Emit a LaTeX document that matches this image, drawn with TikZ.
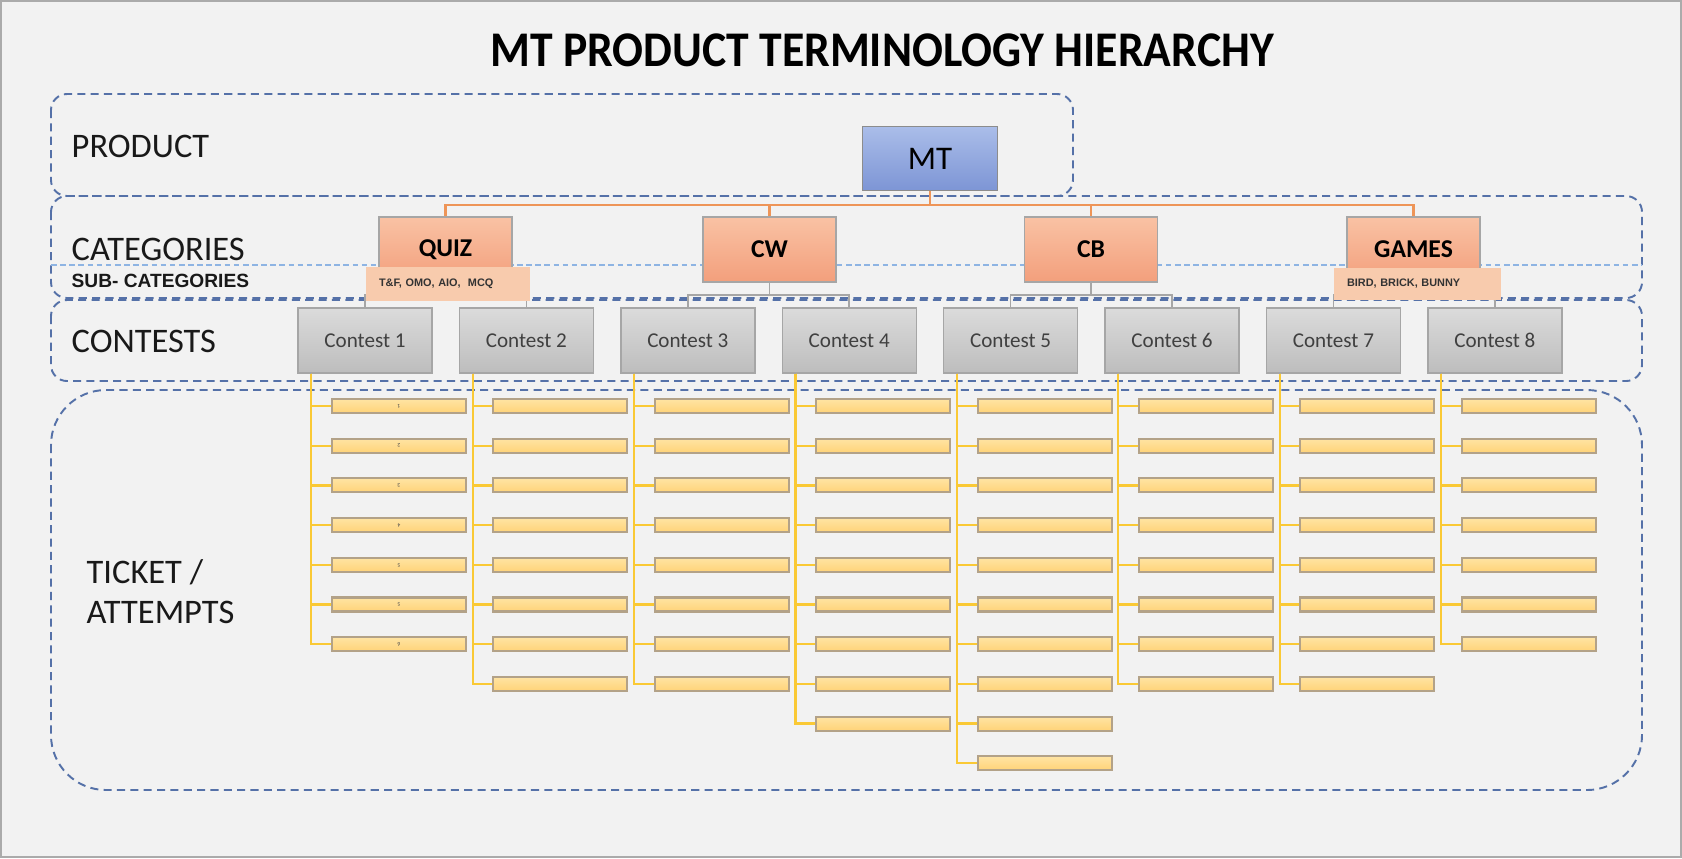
\documentclass[tikz,border=0pt]{standalone}
\usepackage{xcolor}
\usepackage{fontspec}
\setmainfont{Carlito}
\newfontfamily\arialfont{Liberation Sans}
\usepackage{tikz}
\usetikzlibrary{positioning}

\definecolor{pagebg}{HTML}{F2F2F2}
\definecolor{framegray}{HTML}{ABABAB}
\definecolor{bandblue}{HTML}{5571A8}
\definecolor{splitblue}{HTML}{8EB4E3}
\definecolor{mttop}{HTML}{AABDE9}
\definecolor{mtbot}{HTML}{7D95D5}
\definecolor{cattop}{HTML}{F9C2A4}
\definecolor{catbot}{HTML}{F39F7C}
\definecolor{subfill}{HTML}{F8CBAD}
\definecolor{contop}{HTML}{DBDBDB}
\definecolor{conbot}{HTML}{BDBDBD}
\definecolor{orangeline}{HTML}{EE9558}
\definecolor{grayline}{HTML}{A6A6A6}
\definecolor{yellowline}{HTML}{FAC935}
\definecolor{tictop}{HTML}{FFE4A3}
\definecolor{ticbot}{HTML}{FFD378}
\definecolor{ticedge}{HTML}{B3A288}

\begin{document}
\begin{tikzpicture}[x=0.1mm, y=-0.1mm,
	band/.style={draw=bandblue, dash pattern=on 2.3pt off 1.5pt, line width=0.55pt, rounded corners=1.6mm},
	level/.style={anchor=west, inner sep=0, text=black!90, font=\fontsize{9.8}{11.4}\selectfont},
	mtbox/.style={draw=black!45, top color=mttop, bottom color=mtbot, minimum width=13.5mm, minimum height=6.4mm, font=\fontsize{9.4}{11}\selectfont},
	catbox/.style={draw=black!35, top color=cattop, bottom color=catbot, minimum width=13.3mm, minimum height=6.5mm, font=\bfseries\fontsize{7.3}{8}\selectfont},
	subbox/.style={fill=subfill, minimum height=3mm, inner xsep=1.3mm, align=left, text=black!80, font=\arialfont\bfseries\fontsize{3.1}{3.5}\selectfont},
	contest/.style={draw=grayline, top color=contop, bottom color=conbot, minimum width=13.4mm, minimum height=6.5mm, text=black!75, font=\fontsize{6}{7}\selectfont},
	ticket/.style={draw=ticedge, line width=0.6pt, top color=tictop, bottom color=ticbot, minimum width=13.4mm, minimum height=1.4mm, inner sep=0},
	tiny/.style={inner sep=0, rotate=180, text=black!70, font=\fontsize{1.6}{2}\selectfont},
	catline/.style={draw=orangeline, line width=0.7pt},
	conline/.style={draw=grayline, line width=0.5pt},
	tickline/.style={draw=yellowline, line width=0.65pt}]

	\useasboundingbox (0,0) rectangle (1682,858);
	\draw[fill=pagebg, draw=framegray, line width=0.2mm] (1,1) rectangle (1681,857);

	\node[font=\bfseries\fontsize{14.2}{17}\selectfont] (title) at (882,50) {\scalebox{0.915}[1]{MT PRODUCT TERMINOLOGY HIERARCHY}};

	\draw[band] (51,94) rectangle (1073,196);
	\draw[band] (51,196) rectangle (1642,298);
	\draw[band] (51,300) rectangle (1642,381);
	\draw[band, rounded corners=5.5mm] (51,390) rectangle (1642,790);
	\draw[draw=splitblue, dash pattern=on 1.6pt off 1pt, line width=0.55pt] (51,265) -- (1642,265);

	\node[level] (lproduct) at (71,146) {PRODUCT};
	\node[level] (lcategories) at (71,249) {CATEGORIES};
	\node[level, font=\arialfont\bfseries\fontsize{5.45}{6}\selectfont] (lsub) at (71,281) {SUB- CATEGORIES};
	\node[level] (lcontests) at (71,341) {CONTESTS};
	\node[level, anchor=north west, align=left] (lticket) at (86,559) {TICKET /\\ATTEMPTS};

	\node[mtbox] (mt) at (930,158.5) {MT};

	\node[catbox] (quiz) at (445.5,249.5) {QUIZ};
	\node[catbox] (cw) at (769.5,249.5) {CW};
	\node[catbox] (cb) at (1091,249.5) {CB};
	\node[catbox] (games) at (1413.5,249.5) {GAMES};

	\foreach \c in {quiz,cw,cb,games}
		\draw[catline] (mt.south) -- ++(0,14) -| (\c.north);

	\node[contest] (c1) at (365,340.5) {Contest 1};
	\node[contest] (c2) at (526.4,340.5) {Contest 2};
	\node[contest] (c3) at (687.8,340.5) {Contest 3};
	\node[contest] (c4) at (849.2,340.5) {Contest 4};
	\node[contest] (c5) at (1010.6,340.5) {Contest 5};
	\node[contest] (c6) at (1172,340.5) {Contest 6};
	\node[contest] (c7) at (1333.4,340.5) {Contest 7};
	\node[contest] (c8) at (1494.8,340.5) {Contest 8};

	\draw[conline] (quiz.south) -- ++(0,12) -| (c1.north);
	\draw[conline] (quiz.south) -- ++(0,12) -| (c2.north);
	\draw[conline] (cw.south) -- ++(0,12) -| (c3.north);
	\draw[conline] (cw.south) -- ++(0,12) -| (c4.north);
	\draw[conline] (cb.south) -- ++(0,12) -| (c5.north);
	\draw[conline] (cb.south) -- ++(0,12) -| (c6.north);
	\draw[conline] (games.south) -- ++(0,12) -| (c7.north);
	\draw[conline] (games.south) -- ++(0,12) -| (c8.north);

	\node[subbox, text width=13.8mm] (quizsub) at (448,284) {T\&F, OMO, AIO,\ \ MCQ};
	\node[subbox, text width=14.1mm] (gamessub) at (1417.5,284) {BIRD, BRICK, BUNNY};

	\foreach \i/\n in {1/7,2/8,3/8,4/9,5/10,6/8,7/8,8/7}{
		\foreach \k in {1,...,\n}{
			\node[ticket] (t\i-\k) at ({399+161.4*(\i-1)}, {406+39.7*(\k-1)}) {};
			\draw[tickline] (c\i.south west) ++(14,0) |- (t\i-\k.west);
		}
	}

	\foreach \k/\d in {1/1,2/2,3/3,4/4,5/5,6/5,7/6}
		\node[tiny] (n1-\k) at (t1-\k) {\d};
\end{tikzpicture}
\end{document}
